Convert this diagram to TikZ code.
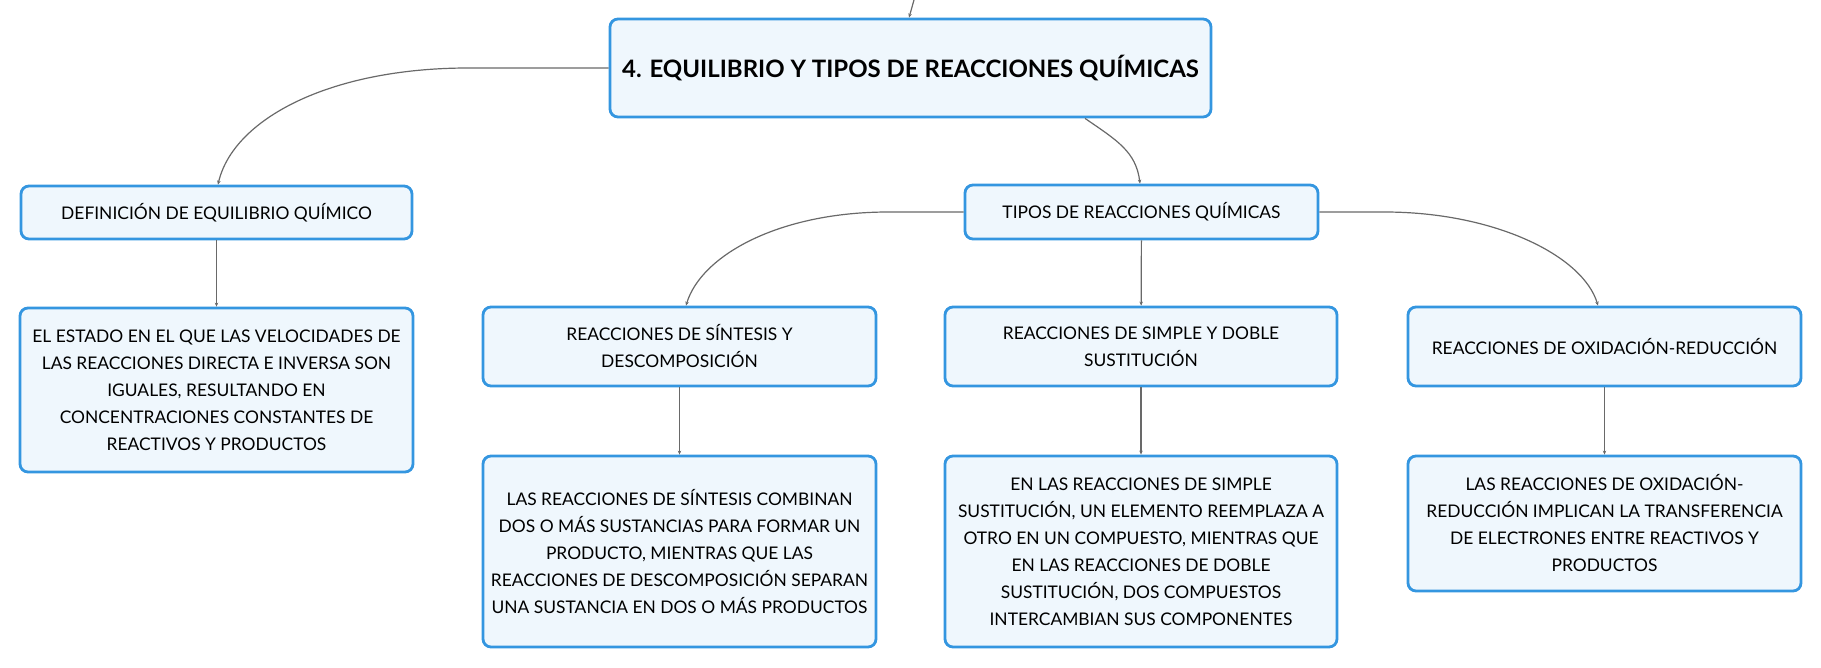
\documentclass[tikz,border=0pt]{standalone}
\usepackage{fontspec}
\setmainfont{Lato}
\usepackage{tikz}
\usepackage{xcolor}
\usetikzlibrary{arrows.meta}
\definecolor{boxblue}{RGB}{52,150,224}
\definecolor{boxfill}{RGB}{239,247,253}
\definecolor{linkgray}{RGB}{105,105,105}

\begin{document}
\begin{tikzpicture}[x=1pt,y=-1pt,
    topic/.style={draw=boxblue, fill=boxfill, line width=2.8pt, rounded corners=8pt,
        inner sep=0pt, align=center, font=\fontsize{17.4}{27}\selectfont},
    link/.style={draw=linkgray, line width=1.2pt, -{Stealth[length=4pt,width=3.5pt]}}]
                \useasboundingbox (0,0) rectangle (1821,668);
                \node[topic, minimum width=601, minimum height=98, font=\fontsize{24}{27}\selectfont\bfseries] (main) at (910.5,68) {4. EQUILIBRIO Y TIPOS DE REACCIONES QUÍMICAS};
                \node[topic, minimum width=391, minimum height=53] (def) at (216.5,212.5) {DEFINICIÓN DE EQUILIBRIO QUÍMICO};
                \node[topic, minimum width=393, minimum height=164] (deftext) at (216.5,390) {EL ESTADO EN EL QUE LAS VELOCIDADES DE\\LAS REACCIONES DIRECTA E INVERSA SON\\IGUALES, RESULTANDO EN\\CONCENTRACIONES CONSTANTES DE\\REACTIVOS Y PRODUCTOS};
                \node[topic, minimum width=353, minimum height=54] (tipos) at (1141.5,212) {TIPOS DE REACCIONES QUÍMICAS};
                \node[topic, minimum width=393, minimum height=79] (sint) at (679.5,346.5) {REACCIONES DE SÍNTESIS Y\\DESCOMPOSICIÓN};
                \node[topic, minimum width=393, minimum height=191] (sinttext) at (679.5,551.5) {LAS REACCIONES DE SÍNTESIS COMBINAN\\DOS O MÁS SUSTANCIAS PARA FORMAR UN\\PRODUCTO, MIENTRAS QUE LAS\\REACCIONES DE DESCOMPOSICIÓN SEPARAN\\UNA SUSTANCIA EN DOS O MÁS PRODUCTOS};
                \node[topic, minimum width=392, minimum height=79] (simple) at (1141,346.5) {REACCIONES DE SIMPLE Y DOBLE\\SUSTITUCIÓN};
                \node[topic, minimum width=392, minimum height=191] (simpletext) at (1141,551.5) {EN LAS REACCIONES DE SIMPLE\\SUSTITUCIÓN, UN ELEMENTO REEMPLAZA A\\OTRO EN UN COMPUESTO, MIENTRAS QUE\\EN LAS REACCIONES DE DOBLE\\SUSTITUCIÓN, DOS COMPUESTOS\\INTERCAMBIAN SUS COMPONENTES};
                \node[topic, minimum width=393, minimum height=79] (redox) at (1604.5,346.5) {REACCIONES DE OXIDACIÓN-REDUCCIÓN};
                \node[topic, minimum width=393, minimum height=135] (redoxtext) at (1604.5,523.5) {LAS REACCIONES DE OXIDACIÓN-\\REDUCCIÓN IMPLICAN LA TRANSFERENCIA\\DE ELECTRONES ENTRE REACTIVOS Y\\PRODUCTOS};
                \coordinate (up) at (914,0);
                \draw[link] (up) -- ([xshift=-1.5pt]main.north);
                \draw[link] (main.west) -- ++(-140,0) .. controls +(-140,0) and +(15,-65) .. ([xshift=1.5pt]def.north);
                \draw[link] ([xshift=174.5pt]main.south) .. controls +(32,22) and +(-4,-32) .. ([xshift=-1.5pt]tipos.north);
                \draw[link] (def) -- (deftext);
                \draw[link] (tipos.west) -- ++(-75,0) .. controls +(-110,0) and +(15,-50) .. ([xshift=6.5pt]sint.north);
                \draw[link] (tipos) -- (simple);
                \draw[link] (tipos.east) -- ++(65,0) .. controls +(110,0) and +(-15,-50) .. ([xshift=-6.5pt]redox.north);
                \draw[link] (sint) -- (sinttext);
                \draw[link] (simple) -- (simpletext);
                \draw[link] (redox) -- (redoxtext);
            \end{tikzpicture}
\end{document}
